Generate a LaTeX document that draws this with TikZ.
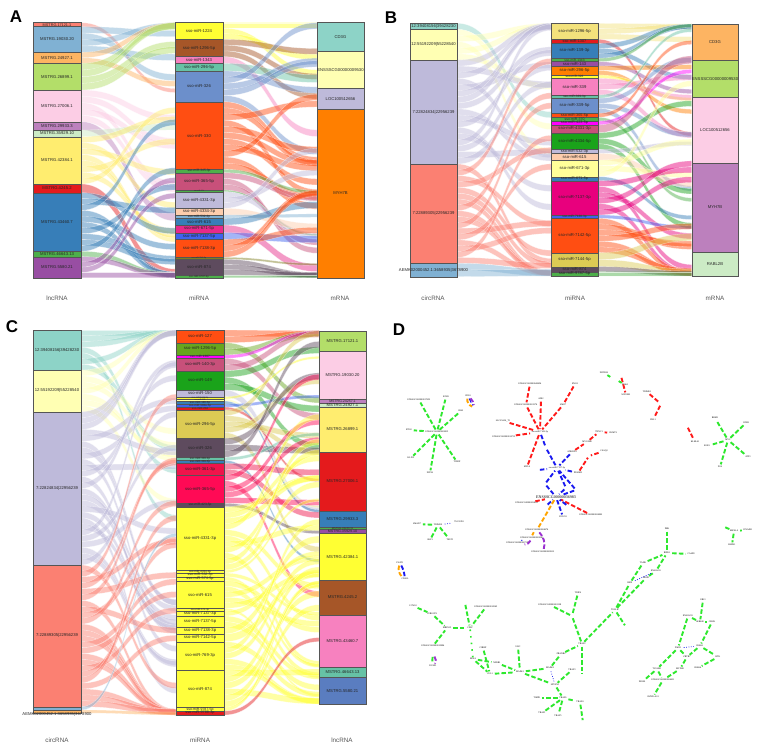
\documentclass[tikz,border=0pt]{standalone}
\usepackage{fontspec}
\setmainfont{Liberation Sans}
\newfontfamily\serifd{Liberation Serif}
\definecolor{s1}{HTML}{8DD3C7}\definecolor{s2}{HTML}{FFFFB3}\definecolor{s3}{HTML}{BEBADA}
\definecolor{s4}{HTML}{FB8072}\definecolor{s5}{HTML}{80B1D3}\definecolor{s6}{HTML}{FDB462}
\definecolor{s7}{HTML}{B3DE69}\definecolor{s8}{HTML}{FCCDE5}\definecolor{s10}{HTML}{BC80BD}
\definecolor{s11}{HTML}{CCEBC5}\definecolor{s12}{HTML}{FFED6F}
\definecolor{c1}{HTML}{E41A1C}\definecolor{c2}{HTML}{377EB8}\definecolor{c3}{HTML}{4DAF4A}
\definecolor{c4}{HTML}{984EA3}\definecolor{c5}{HTML}{FF7F00}\definecolor{c6}{HTML}{FFFF33}
\definecolor{c7}{HTML}{A65628}\definecolor{c8}{HTML}{F781BF}
\definecolor{tl}{HTML}{66C2A5}\definecolor{pch}{HTML}{FDCDAC}\definecolor{mbl}{HTML}{6C8FCB}
\definecolor{orr}{HTML}{FF4E12}\definecolor{rose}{HTML}{C8507A}\definecolor{mag}{HTML}{E7298A}
\definecolor{roy}{HTML}{3F63EE}\definecolor{olv}{HTML}{7F7F20}\definecolor{mauve}{HTML}{5E4B5E}
\definecolor{khk}{HTML}{DCCB54}\definecolor{lkhk}{HTML}{F3E27C}\definecolor{dgr}{HTML}{1AA31A}
\definecolor{fuch}{HTML}{FF00FF}\definecolor{dpk}{HTML}{E8007D}\definecolor{lyl}{HTML}{FFFF99}
\definecolor{ogr}{HTML}{66A61E}\definecolor{crim}{HTML}{F0144B}\definecolor{hred}{HTML}{FF0A55}
\definecolor{yel}{HTML}{FFFF3C}\definecolor{mbl2}{HTML}{5A7DC0}
\definecolor{netr}{HTML}{FF1A1A}\definecolor{netb}{HTML}{1A1AF0}\definecolor{netg}{HTML}{2EE82E}
\definecolor{neto}{HTML}{FFA500}\definecolor{netp}{HTML}{9B30D0}
\definecolor{segl}{HTML}{555555}\definecolor{axg}{HTML}{555555}

\newcommand\setflow[7]{\def\fxa{#1}\def\fxb{#2}\def\fLa{#3}\def\fLb{#4}\def\fRa{#5}\def\fRb{#6}\def\fnz{#7}}
\def\fstep{6}
\newcommand\flowseg[4]{%
 \pgfmathsetmacro\fthk{(#2-#1)/#3}%
 \pgfmathsetmacro\fxm{(\fxa+\fxb)/2}%
 \foreach \fk in {1,...,#3}{%
  \pgfmathsetmacro\fya{#1+(\fk-1)*\fthk}%
  \pgfmathsetmacro\fyb{\fya+\fthk}%
  \pgfmathsetmacro\fbase{\fRa+(\fya-\fLa)/(\fLb-\fLa)*(\fRb-\fRa)}%
  \pgfmathsetmacro\fta{max(\fRa,min(\fRb-\fthk,\fbase+\fnz*rand))}%
  \pgfmathsetmacro\ftb{\fta+\fthk}%
  \path[fill=#4,fill opacity=.47,draw=white,draw opacity=.6,line width=.3pt] (\fxa,\fya) .. controls (\fxm,\fya) and (\fxm,\fta) .. (\fxb,\fta) -- (\fxb,\ftb) .. controls (\fxm,\ftb) and (\fxm,\fyb) .. (\fxa,\fyb) -- cycle;
 }}
\newcommand\flowlist[1]{\foreach \qa/\qb/\qc/\qd in #1 {\pgfmathtruncatemacro\qn{max(1,round((\qb-\qa)/\fstep))}\flowseg{\qa}{\qb}{\qn}{\qc}}}
\newcommand\collist[4]{%
 \foreach \qa/\qb/\qc/\qd in #3 {\path[fill=\qc,draw=segl,line width=.4pt] (#1,\qa) rectangle (#2,\qb);}%
 \foreach \qa/\qb/\qc/\qd [count=\qi] in #3 {%
   \pgfmathsetmacro\qfs{min(4.2,max(1.7,0.95*(\qb-\qa)))}%
   \node[lab, font=\fontsize{\qfs}{\qfs}\selectfont] (#4\qi) at ({(#1+#2)/2},{(\qa+\qb)/2}) {\qd};}}
\newcommand\dfont{\fontsize{2.3}{2.6}\selectfont\serifd}

\def\ALl{22.7/26.7/s4/MSTRG.17121.1, 26.7/52.3/s5/MSTRG.19030.20, 52.3/63.3/s6/MSTRG.24927.1, 63.3/90/s7/MSTRG.26899.1, 90/121.7/s8/MSTRG.27006.1, 121.7/130/s10/MSTRG.29933.3, 130/136.7/s11/MSTRG.35929.10, 136.7/184/s12/MSTRG.42384.1, 184/192.7/c1/MSTRG.4245.2, 192.7/251.3/c2/MSTRG.43460.7, 251.3/256.7/c3/MSTRG.46643.13, 256.7/277.7/c4/MSTRG.5580.21}
\def\AMl{22.7/39.3/c6/sso-miR-1224, 39.3/56.7/c7/sso-miR-1296-5p, 56.7/63.3/c8/sso-miR-1343, 63.3/71/tl/sso-miR-296-5p, 71/101.7/mbl/sso-miR-326, 101.7/169.3/orr/sso-miR-330, 169.3/172.7/c3/sso-miR-345-3p, 172.7/190/rose/sso-miR-365-5p, 190/191.7/c3/sso-miR-374, 191.7/208.3/s3/sso-miR-4331-3p, 208.3/215/pch/sso-miR-4334-3p, 215/218.3/s5/sso-miR-532-3p, 218.3/225/c2/sso-miR-615, 225/232.7/mag/sso-miR-671-5p, 232.7/239.3/roy/sso-miR-7137-5p, 239.3/257.3/orr/sso-miR-7138-3p, 257.3/259.3/olv/sso-miR-7142-5p, 259.3/275/mauve/sso-miR-874, 275/277.7/c3/sso-miR-9787-5p}
\def\ARl{22.7/51/s1/CD3G, 51/88.3/s2/ENSSSCG00000009530, 88.3/109/s3/LOC100512656, 109/277.7/c5/MYH7B}
\def\BLl{23.3/29.3/s1/12:39408156|39428230, 29.3/60/s2/12:55192209|55228540, 60/164/s3/7:22824834|22956239, 164/263.3/s4/7:22889305|22956239, 263.3/276.7/s5/AEMK02000452.1:3658935|3678900}
\def\BMl{23.3/39.3/lkhk/sso-miR-1296-5p, 39.3/43.3/c1/sso-miR-1307, 43.3/58.3/c2/sso-miR-139-3p, 58.3/61.7/c3/sso-miR-1343, 61.7/66/c4/sso-miR-143, 66/75/c5/sso-miR-296-5p, 75/78.3/c6/sso-miR-326, 78.3/95/c8/sso-miR-339, 95/98.3/tl/sso-miR-339-3p, 98.3/113.3/mbl/sso-miR-339-5p, 113.3/117.3/orr/sso-miR-365-5p, 117.3/121/c3/sso-miR-370, 121/125/fuch/sso-miR-423-5p, 125/132.7/rose/sso-miR-4331-3p, 132.7/149.3/dgr/sso-miR-4334-5p, 149.3/153.3/s3/sso-miR-532-3p, 153.3/160/pch/sso-miR-615, 160/176.7/lyl/sso-miR-671-3p, 176.7/180.7/c2/sso-miR-671-5p, 180.7/215/dpk/sso-miR-7137-3p, 215/218.3/roy/sso-miR-7138-3p, 218.3/252.7/orr/sso-miR-7142-5p, 252.7/266.7/khk/sso-miR-7144-5p, 266.7/271.7/mauve/sso-miR-874, 271.7/276/c3/sso-miR-9787-5p}
\def\BRl{24/60.7/s6/CD3G, 60.7/96.7/s7/ENSSSCG00000009530, 96.7/163.3/s8/LOC100512656, 163.3/251.7/s10/MYH7B, 251.7/276/s11/RABL2B}
\def\CLl{330/370/s1/12:39408156|39428230, 370/411.7/s2/12:55192209|55228540, 411.7/565/s3/7:22824834|22956239, 565/706.7/s4/7:22889305|22956239, 706.7/710/s5/, 710/713/s6/}
\def\CMl{330/342.7/orr/sso-miR-127, 342.7/355/ogr/sso-miR-1296-5p, 355/358.3/fuch/sso-miR-1307, 358.3/370.7/rose/sso-miR-140-3p, 370.7/390/dgr/sso-miR-149, 390/396.7/s3/sso-miR-150, 396.7/399/c6/sso-miR-181d-5p, 399/401/lyl/sso-miR-185, 401/404/c2/sso-miR-186-5p, 404/407/roy/sso-miR-193a-5p, 407/410/c1/sso-miR-204, 410/438.3/khk/sso-miR-296-5p, 438.3/457.3/mauve/sso-miR-326, 457.3/460.3/tl/sso-miR-339-3p, 460.3/463.3/c2/sso-miR-339-5p, 463.3/475/crim/sso-miR-361-3p, 475/503.3/hred/sso-miR-365-5p, 503.3/506.7/mauve/sso-miR-423-5p, 506.7/570/yel/sso-miR-4331-3p, 570/573/yel/sso-miR-4334-3p, 573/576.7/yel/sso-miR-532-3p, 576.7/580.7/yel/sso-miR-574-5p, 580.7/608.3/yel/sso-miR-615, 608.3/611/yel/sso-miR-671-3p, 611/616/yel/sso-miR-7137-3p, 616/627.3/yel/sso-miR-7137-5p, 627.3/634/yel/sso-miR-7138-3p, 634/641.7/yel/sso-miR-7142-5p, 641.7/670/yel/sso-miR-769-3p, 670/707.3/yel/sso-miR-874, 707.3/711/yel/sso-miR-9787-5p, 711/715/c1/sso-miR-9788-3p}
\def\CRl{330.7/350.7/s7/MSTRG.17121.1, 350.7/399/s8/MSTRG.19030.20, 399/402.7/s10/MSTRG.24257.1, 402.7/407.3/s11/MSTRG.24927.1, 407.3/451.7/s12/MSTRG.26899.1, 451.7/510.7/c1/MSTRG.27006.1, 510.7/526.7/c2/MSTRG.29933.3, 526.7/529.5/c3/MSTRG.33240.11, 529.5/533.3/c4/MSTRG.35929.10, 533.3/580/c6/MSTRG.42384.1, 580/615/c7/MSTRG.4245.2, 615/667.3/c8/MSTRG.43460.7, 667.3/677.3/tl/MSTRG.46643.13, 677.3/704/mbl2/MSTRG.5580.21}

\begin{document}
\begin{tikzpicture}[x=1pt,y=-1pt,
  lab/.style={font=\fontsize{4.2}{4.6}\selectfont, inner sep=0pt, text=black!85},
  axl/.style={font=\fontsize{6.3}{7}\selectfont, text=axg},
  plet/.style={font=\fontsize{17}{17}\selectfont\bfseries},
  dn/.style={font=\dfont, inner sep=.5pt, text=black},
  ed/.style={line width=1.9pt, dash pattern=on 4.5pt off 2.2pt, shorten <=1.2pt, shorten >=1.2pt},
  gE/.style={ed, draw=netg}, rE/.style={ed, draw=netr}, bE/.style={ed, draw=netb},
  oE/.style={ed, draw=neto}, pE/.style={ed, draw=netp},
  bdot/.style={draw=netb, line width=.7pt, dash pattern=on .8pt off 1.6pt, shorten <=2pt, shorten >=2pt}]
\useasboundingbox (0,0) rectangle (757,752);
\fill[white] (0,0) rectangle (757,752);
\pgfmathsetseed{11}
% ---------- flows ----------
\setflow{81}{175}{22.7}{277.7}{22.7}{277.7}{100}\flowlist{\ALl}
\setflow{223}{317}{22.7}{277.7}{22.7}{277.7}{80}\flowlist{\AMl}
\setflow{457}{551}{23.3}{276.7}{23.3}{276}{120}\flowlist{\BLl}
\setflow{598}{691.7}{23.3}{276}{24}{276}{95}\flowlist{\BMl}
\setflow{81}{176}{330}{713}{330}{715}{180}\flowlist{\CLl}
\setflow{224}{319}{330}{715}{330.7}{704}{120}\flowlist{\CMl}
% ---------- columns ----------
\collist{33}{81}{\ALl}{al}
\collist{175}{223}{\AMl}{am}
\collist{317}{364}{\ARl}{ar}
\collist{410}{457}{\BLl}{bl}
\collist{551}{598}{\BMl}{bm}
\collist{691.7}{738.3}{\BRl}{br}
\collist{33}{81}{\CLl}{cl}
\collist{176}{224}{\CMl}{cm}
\collist{319}{366}{\CRl}{cr}
\node[lab] (claemk) at (57,714) {AEMK02000452.1:3658935|3678900};
% axis labels
\node[axl] (xa1) at (57,298) {lncRNA};
\node[axl] (xa2) at (199,298) {miRNA};
\node[axl] (xa3) at (340,298) {mRNA};
\node[axl] (xb1) at (433,298) {circRNA};
\node[axl] (xb2) at (575,298) {miRNA};
\node[axl] (xb3) at (715,298) {mRNA};
\node[axl] (xc1) at (57,740) {circRNA};
\node[axl] (xc2) at (200,740) {miRNA};
\node[axl] (xc3) at (342,740) {lncRNA};
% panel letters
\node[plet] (pA) at (16,17) {A};
\node[plet] (pB) at (391,18) {B};
\node[plet] (pC) at (12,327) {C};
\node[plet] (pD) at (399,330) {D};
% ---------- panel D ----------
\node[dn] (r1) at (530,384) {ENSSSCG00000040454};
\node[dn] (r9) at (526,405) {ENSSSCG00000021374};
\node[dn] (r2) at (541,399) {ADI2};
\node[dn] (r4) at (503,421) {SLC25A36\_T1};
\node[dn] (r3) at (504,437) {ENSSSCG00000016712};
\node[dn] (r0) at (540,432) {sso-miR-7142-5p};
\node[dn] (r5) at (563,405) {LMO7};
\node[dn] (r6) at (575,384) {ENO3};
\node[dn] (r7) at (527,467) {MYL4};
\node[dn] (r12) at (599,432) {TNNC1};
\node[dn] (r8) at (587,442) {MYO18B};
\node[dn] (r11) at (613,433) {CKMT2};
\node[dn] (r14) at (604,451) {CASQ2};
\node[dn] (r15) at (589,456) {};
\node[dn] (r17) at (591,515) {ENSSSCG00000026802};
\node[dn] (x1) at (527,503) {ENSSSCG00000034511};
\node[dn] (r20) at (621,376) {};
\node[dn] (r21) at (626,395) {MYOM2};
\node[dn] (r22) at (647,392) {TRIM63};
\node[dn] (r23) at (661,404) {};
\node[dn] (r24) at (653,420) {FHL1};
\node[dn] (r25) at (687,426) {};
\node[dn] (r26) at (695,442) {KLHL41};
\node[dn] (g01) at (604,373) {ZBTB16};
\node[dn] (g02) at (612,378) {};
\node[dn] (g03) at (617,380) {};
\node[dn] (g04) at (625,385) {PDK4};
\node[dn] (b0) at (557,468) {sso-miR-7137-3p};
\node[dn] (b2) at (546,448) {};
\node[dn] (b3) at (572,452) {ANKRD1};
\node[dn] (b4) at (578,473) {PDLIM3};
\node[dn] (b5) at (545,484) {};
\node[dn] (b6) at (566,488) {};
\node[dn] (b7) at (538,470) {};
\node[dn] (b8) at (576,490) {};
\node[dn, font=\fontsize{4}{4.5}\selectfont\serifd] (bl) at (556,497) {ENSSSCG00000036983};
\node[dn] (b9) at (546,506) {};
\node[dn] (b10) at (568,506) {};
\node[dn] (b11) at (563,517) {FOXO3};
\draw[rE] (r1) -- (r9); \draw[rE] (r9) -- (r0); \draw[rE] (r2) -- (r0);
\draw[rE] (r4) -- (r0); \draw[rE] (r3) -- (r0); \draw[rE] (r5) -- (r0);
\draw[rE] (r6) -- (r5); \draw[rE] (r7) -- (r0); \draw[rE] (r8) -- (r12);
\draw[rE] (r12) -- (r11); \draw[rE] (r14) -- (r15); \draw[rE] (b4) -- (r15);
\draw[rE] (x1) -- (bl); \draw[rE] (r17) -- (bl); \draw[rE] (r20) -- (r21);
\draw[rE] (r22) -- (r23); \draw[rE] (r23) -- (r24); \draw[rE] (r25) -- (r26);
\draw[rE] (b3) -- (r8);
\draw[gE] (g01) -- (g02); \draw[gE] (g03) -- (g04);
\draw[bE] (r0) -- (b2); \draw[bE] (b2) -- (b0); \draw[bE] (b3) -- (b0);
\draw[bE] (b4) -- (b0); \draw[bE] (b5) -- (b0); \draw[bE] (b6) -- (b0);
\draw[bE] (b7) -- (b0); \draw[bE] (b8) -- (b0); \draw[bE] (b5) -- (bl);
\draw[bE] (b6) -- (bl); \draw[bE] (b8) -- (bl); \draw[bE] (b9) -- (bl);
\draw[bE] (b10) -- (bl); \draw[bE] (bl) -- (b11);
\node[dn] (p0) at (537,530) {ENSSSCG00000004674};
\node[dn] (p1) at (532,538) {ENSSSCG00000003041};
\node[dn] (p2) at (518,543) {ENSSSCG00000007186};
\node[dn] (p3) at (543,552) {ENSSSCG00000009212};
\draw[oE] (bl) -- (p0);
\draw[oE] (p0) to[bend right=25] (p1);
\draw[pE] (p1) to[bend left=35] (p2);
\draw[bE, line width=1pt] (p1) to[bend right=10] (p2);
\draw[pE] (p0) to[bend left=30] (p3);
\node[dn] (pp1) at (468,396) {CD3G};
\node[dn] (pp2) at (474,407) {};
\draw[oE] (pp1) to[bend right=45] (pp2);
\draw[pE] (pp1) to[bend left=20] (pp2);
\draw[bE, line width=1pt] (pp1) to[bend right=5] (pp2);
\node[dn] (o1) at (400,563) {PSAT1};
\node[dn] (o2) at (405,579) {CD63L};
\draw[oE] (o1) to[bend right=35] (o2);
\draw[bE] (o1) to[bend left=10] (o2);
\node[dn] (ga0) at (437,432) {ENSSSCG00000002815};
\node[dn] (ga1) at (419,400) {ENSSSCG00000017652};
\node[dn] (ga2) at (446,397) {EZH1};
\node[dn] (ga3) at (461,411) {IRS2};
\node[dn] (ga4) at (409,430) {BTG2};
\node[dn] (ga5) at (411,458) {KLF15};
\node[dn] (ga6) at (430,473) {ZFP36};
\node[dn] (ga7) at (457,462) {TXNIP};
\foreach \t in {ga1,ga2,ga3,ga4,ga5,ga6,ga7} {\draw[gE] (ga0) -- (\t);}
\node[dn] (gb0) at (438,525) {TRIM28};
\node[dn] (gb1) at (417,524) {SMAD7};
\node[dn] (gb2) at (430,540) {SKP1};
\node[dn] (gb3) at (450,540) {TEST1};
\node[dn] (gb4) at (459,522) {TSC22D3};
\foreach \t in {gb1,gb2,gb3} {\draw[gE] (gb0) -- (\t);}
\draw[bdot] (gb0) -- (gb4);
\node[dn] (gc0) at (728,440) {MYC};
\node[dn] (gc1) at (715,418) {RBM3};
\node[dn] (gc2) at (746,423) {JUNB};
\node[dn] (gc3) at (748,457) {ATF3};
\node[dn] (gc4) at (720,467) {FOS};
\node[dn] (gc5) at (707,446) {EGR1};
\foreach \t in {gc1,gc2,gc3,gc4,gc5} {\draw[gE] (gc0) -- (\t);}
\node[dn] (gd0) at (734,531) {HSPA1A};
\node[dn] (gd1) at (722,526) {};
\node[dn] (gd2) at (748,530) {DNAJB1};
\node[dn] (gd3) at (732,545) {HSPH1};
\foreach \t in {gd1,gd2,gd3} {\draw[gE] (gd0) -- (\t);}
\node[dn] (n1) at (413,606) {CCNG2};
\node[dn] (n2) at (432,614) {TUBGCP2};
\node[dn] (n3) at (447,628) {MRPS35};
\node[dn] (n4) at (470,628) {CINP};
\node[dn] (n5) at (465,603) {};
\node[dn] (n6) at (486,607) {ENSSSCG00000010345};
\node[dn] (n7) at (433,646) {ENSSSCG00000015894};
\node[dn] (n8) at (433,655) {};
\node[dn] (n8b) at (433,666) {DUSP1};
\node[dn] (n9) at (483,648) {CIRBP};
\node[dn] (n10) at (473,659) {RELA};
\node[dn] (n11) at (497,663) {NFKB1};
\node[dn] (n12) at (490,674) {CUL1};
\node[dn] (n13) at (520,672) {MAPK1};
\node[dn] (n14) at (518,647) {UBC};
\node[dn] (n15) at (550,668) {MAPK3};
\node[dn] (n16) at (555,685) {SPTAN1};
\node[dn] (n17) at (561,654) {ZRANB2};
\node[dn] (n18) at (582,644) {TRAF2};
\node[dn] (n19) at (578,593) {TRIP4};
\node[dn] (n20) at (572,616) {};
\node[dn] (n21) at (550,605) {ENSSSCG00000001128};
\node[dn] (n22) at (582,676) {};
\node[dn] (n23) at (563,698) {TRAF6};
\node[dn] (n24) at (572,670) {TRAF3};
\node[dn] (n25) at (537,698) {TIMP1};
\node[dn] (n26) at (542,713) {TRAF1};
\node[dn] (n27) at (558,716) {TRAF5};
\node[dn] (n28) at (580,702) {TRAF4};
\node[dn] (n29) at (583,722) {};
\node[dn] (n30) at (615,610) {TOLLIP};
\node[dn] (n31) at (626,627) {};
\node[dn] (m1) at (630,583) {BBX};
\node[dn] (m2) at (646,578) {NRIP1};
\node[dn] (m3) at (656,571) {ENSSSCG};
\node[dn] (m4) at (643,563) {TANK};
\node[dn] (m5) at (667,553) {RIPK1};
\node[dn] (m6) at (667,529) {PBK};
\node[dn] (m7) at (691,554) {CASP8};
\node[dn] (q1) at (703,600) {EBI3};
\node[dn] (q2) at (688,616) {ENSSSCG};
\node[dn] (q3) at (700,622) {IKBKB};
\node[dn] (q4) at (712,622) {CHUK};
\node[dn] (q5) at (678,648) {FADD};
\node[dn] (q6) at (700,646) {IRAK1};
\node[dn] (q7) at (687,657) {ZBTB7};
\node[dn] (q8) at (680,669) {MYD88};
\node[dn] (q9) at (698,668) {IRAK4};
\node[dn] (q10) at (718,657) {BTK};
\node[dn] (q11) at (657,669) {TICAM1};
\node[dn] (q12) at (663,680) {ENSSSCG00000004431};
\node[dn] (q13) at (642,682) {INO80};
\node[dn] (q14) at (653,697) {SMYD-AS1};
\foreach \a/\b in {n1/n2,n2/n3,n3/n4,n5/n4,n6/n4,n7/n3,n9/n12,n10/n12,n10/n11,n11/n13,n12/n13,n14/n13,n13/n15,n13/n16,n15/n17,n17/n18,n18/n20,n19/n20,n21/n20,n18/n22,n24/n16,n16/n23,n23/n25,n23/n26,n23/n27,n23/n28,n28/n29,n18/n30,n30/n31,n30/m1,n30/m2,m1/m4,m2/m3,m3/m5,m4/m5,m6/m5,m5/m7,q1/q3,q2/q3,q3/q4,q2/q5,q4/q6,q5/q7,q6/q7,q7/q8,q6/q10,q10/q9,q5/q11,q11/q12,q8/q12,q11/q13,q12/q14}
  {\draw[gE] (\a) -- (\b);}
\draw[pE] (n8) to[bend left=40] (n8b);
\draw[gE] (n8) to[bend right=10] (n8b);
\draw[draw=netg, line width=1.6pt, dash pattern=on 1.6pt off 5pt] (n4) -- (n10);
\draw[bdot] (q5) -- (q6); \draw[bdot] (m1) -- (m3); \draw[bdot] (n15) -- (n16);
\end{tikzpicture}
\end{document}
